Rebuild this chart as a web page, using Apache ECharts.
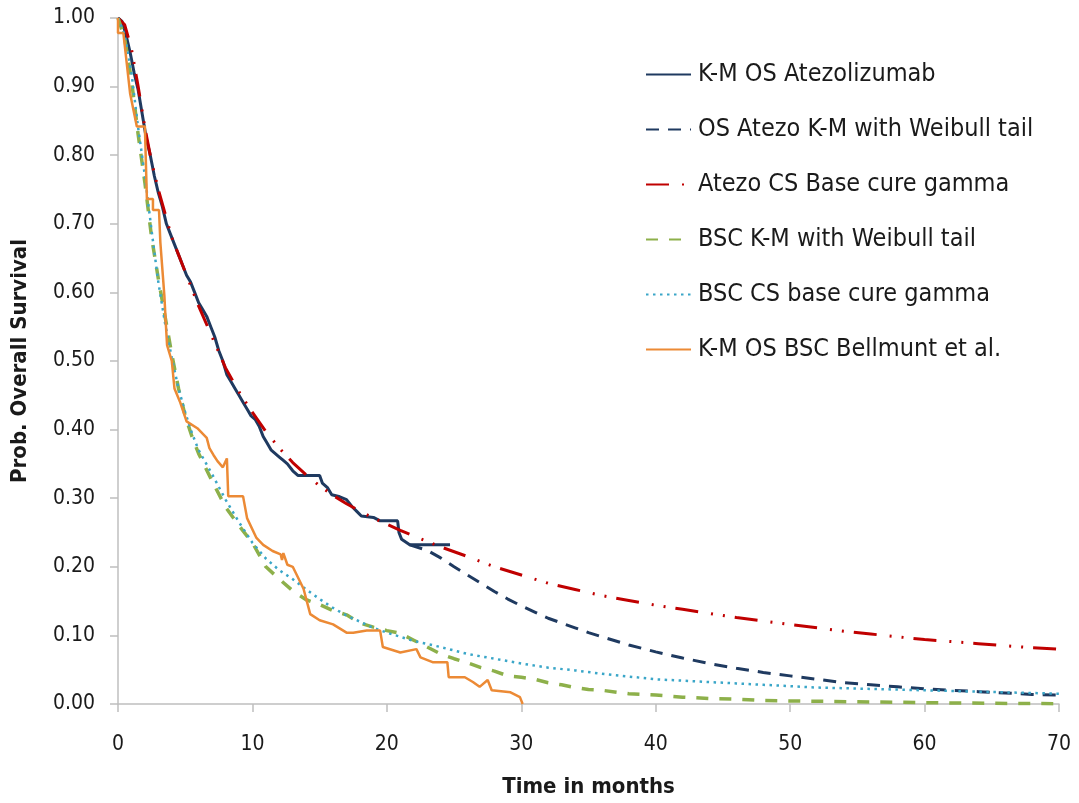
<!DOCTYPE html>
<html>
<head>
<meta charset="utf-8">
<script src="https://cdn.jsdelivr.net/npm/echarts@6/dist/echarts.min.js"></script>
<style>
html,body{margin:0;padding:0;background:#fff;}
#chart{width:1079px;height:803px;}
</style>
</head>
<body>
<div id="chart"></div>
<script>
// ---- Data (time in months, probability of overall survival) ----
const seriesNames = [
  'K-M OS Atezolizumab',
  'OS Atezo K-M with Weibull tail',
  'Atezo CS Base cure gamma',
  'BSC K-M with Weibull tail',
  'BSC CS base cure gamma',
  'K-M OS BSC Bellmunt et al.'
];

const kmAtezo = [[0,1],[0.3,0.995],[0.6,0.975],[0.9,0.95],[1.2,0.92],[1.5,0.895],[1.8,0.86],[2.1,0.825],[2.4,0.8],[2.7,0.77],[3.0,0.745],[3.3,0.725],[3.6,0.7],[3.9,0.685],[4.2,0.67],[4.5,0.655],[4.8,0.64],[5.1,0.625],[5.4,0.615],[5.7,0.6],[6.0,0.585],[6.3,0.575],[6.6,0.565],[6.9,0.55],[7.2,0.535],[7.5,0.515],[7.8,0.5],[8.1,0.48],[8.4,0.47],[8.7,0.46],[9.0,0.45],[9.3,0.44],[9.6,0.43],[9.9,0.42],[10.2,0.415],[10.5,0.405],[10.8,0.39],[11.1,0.38],[11.4,0.37],[11.7,0.365],[12.0,0.36],[12.3,0.355],[12.6,0.35],[13.0,0.34],[13.4,0.333],[15.0,0.333],[15.2,0.322],[15.6,0.315],[15.9,0.305],[16.5,0.302],[17.0,0.298],[17.4,0.288],[17.8,0.28],[18.1,0.274],[19.0,0.272],[19.5,0.267],[20.8,0.267],[20.9,0.25],[21.1,0.24],[21.7,0.232],[24.7,0.232]];

const atezoWeibull = [[21.7,0.232],[23,0.224],[24,0.213],[25,0.2],[26,0.188],[27,0.176],[28,0.164],[29,0.153],[30,0.143],[31,0.134],[32,0.125],[33,0.118],[34,0.111],[35,0.104],[36,0.098],[38,0.086],[40,0.076],[42,0.067],[44,0.059],[46,0.052],[48,0.046],[50,0.041],[52,0.036],[54,0.031],[56,0.028],[58,0.025],[60,0.022],[62,0.02],[64,0.018],[66,0.016],[68,0.014],[70,0.013]];

const atezoCure = [[0,1],[0.5,0.99],[1,0.955],[1.5,0.9],[2,0.84],[2.5,0.79],[3,0.75],[3.5,0.715],[4,0.68],[4.5,0.655],[5,0.63],[5.5,0.605],[6,0.58],[7,0.535],[8,0.49],[9,0.455],[10,0.425],[11,0.397],[12,0.373],[13,0.352],[14,0.334],[15,0.318],[16,0.304],[17,0.292],[18,0.281],[19,0.271],[20,0.262],[21,0.253],[22,0.245],[23,0.237],[24,0.229],[26,0.215],[28,0.2],[30,0.188],[32,0.176],[34,0.167],[36,0.158],[38,0.151],[40,0.144],[42,0.138],[44,0.132],[46,0.126],[48,0.121],[50,0.116],[52,0.111],[54,0.106],[56,0.102],[58,0.098],[60,0.094],[62,0.091],[64,0.088],[66,0.085],[68,0.082],[70,0.08]];

const bscWeibull = [[0,1],[0.5,0.97],[1,0.91],[1.5,0.83],[2,0.76],[2.5,0.68],[3,0.62],[3.5,0.565],[4,0.51],[4.5,0.46],[5,0.42],[5.5,0.39],[6,0.365],[7,0.325],[8,0.287],[9,0.26],[10,0.235],[11,0.2],[12,0.182],[13,0.165],[14,0.152],[15,0.145],[16,0.136],[17,0.13],[18,0.118],[19,0.112],[20,0.107],[21,0.103],[22,0.093],[23,0.083],[24,0.073],[25,0.066],[26,0.06],[27,0.053],[28,0.048],[29,0.041],[30,0.039],[31,0.036],[32,0.031],[33,0.028],[34,0.024],[35,0.021],[36,0.02],[38,0.015],[40,0.013],[42,0.01],[44,0.008],[46,0.007],[48,0.005],[52,0.004],[56,0.003],[60,0.002],[65,0.001],[70,0.0005]];

const bscCure = [[0,1],[0.5,0.975],[1,0.92],[1.5,0.84],[2,0.77],[2.5,0.69],[3,0.615],[3.5,0.555],[4,0.505],[4.5,0.46],[5,0.425],[5.5,0.395],[6,0.37],[7,0.335],[8,0.298],[9,0.265],[10,0.235],[11,0.212],[12,0.195],[13,0.182],[14,0.167],[15,0.153],[16,0.14],[17,0.129],[18,0.12],[19,0.111],[20,0.104],[22,0.092],[24,0.083],[26,0.073],[28,0.066],[30,0.059],[32,0.053],[34,0.049],[36,0.044],[38,0.04],[40,0.036],[42,0.034],[44,0.032],[46,0.03],[48,0.028],[50,0.026],[52,0.024],[54,0.023],[56,0.022],[58,0.021],[60,0.02],[62,0.019],[64,0.018],[66,0.017],[68,0.016],[70,0.015]];

const kmBsc = [[0,1],[0,0.978],[0.4,0.978],[0.9,0.89],[1.4,0.842],[2.0,0.842],[2.15,0.736],[2.6,0.736],[2.6,0.72],[3.05,0.72],[3.15,0.673],[3.45,0.595],[3.55,0.557],[3.65,0.523],[4.0,0.5],[4.2,0.46],[4.6,0.441],[5.1,0.412],[5.9,0.402],[6.6,0.388],[6.8,0.373],[7.1,0.363],[7.4,0.354],[7.8,0.345],[8.1,0.358],[8.2,0.303],[9.3,0.303],[9.6,0.271],[10.3,0.242],[10.8,0.232],[11.5,0.223],[12.1,0.218],[12.2,0.21],[12.3,0.22],[12.6,0.203],[13.0,0.2],[13.8,0.168],[14.3,0.131],[15.0,0.122],[16.0,0.116],[17.0,0.104],[17.5,0.104],[18.5,0.107],[19.5,0.107],[19.7,0.083],[21.0,0.075],[22.2,0.08],[22.5,0.068],[23.4,0.061],[24.5,0.061],[24.6,0.039],[25.8,0.039],[26.4,0.032],[26.9,0.025],[27.5,0.035],[27.8,0.02],[29.2,0.017],[29.9,0.01],[30.1,0]];

const xTicks = {min: 0, max: 70, interval: 10};
const yTicks = {min: 0, max: 1, interval: 0.1};

// ---- Chart ----
const FONT = "'DejaVu Sans Condensed', 'Open Sans', sans-serif";
const chart = echarts.init(document.getElementById('chart'), null, {renderer: 'canvas'});

function lineSeries(name, data, color, width, dash) {
  return {
    name: name,
    type: 'line',
    data: data,
    symbol: 'none',
    smooth: false,
    animation: false,
    lineStyle: {color: color, width: width, type: dash, cap: 'butt'},
    itemStyle: {color: color}
  };
}

const option = {
  backgroundColor: '#fff',
  animation: false,
  grid: {left: 118, right: 20, top: 18, bottom: 96, containLabel: false},
  legend: {
    orient: 'vertical',
    left: 640,
    top: 57,
    itemWidth: 45,
    itemHeight: 14,
    itemGap: 30,
    data: seriesNames,
    itemStyle: {opacity: 0, borderWidth: 0},
    textStyle: {fontFamily: FONT, fontSize: 25, color: '#1a1a1a', padding: [0, 0, 0, 2]},
    selectedMode: false
  },
  xAxis: {
    type: 'value',
    min: xTicks.min, max: xTicks.max, interval: xTicks.interval,
    name: 'Time in months',
    nameLocation: 'middle',
    nameGap: 72,
    nameTextStyle: {fontFamily: FONT, fontSize: 22, fontWeight: 'bold', color: '#1a1a1a'},
    axisLine: {show: true, lineStyle: {color: '#bfbfbf', width: 1.5}},
    axisTick: {show: true, length: 8, lineStyle: {color: '#bfbfbf', width: 1.5}},
    axisLabel: {margin: 30, fontFamily: FONT, fontSize: 21, color: '#1a1a1a'},
    splitLine: {show: false}
  },
  yAxis: {
    type: 'value',
    min: yTicks.min, max: yTicks.max, interval: yTicks.interval,
    name: 'Prob. Overall Survival',
    nameLocation: 'middle',
    nameGap: 87,
    nameRotate: 90,
    nameTextStyle: {fontFamily: FONT, fontSize: 22, fontWeight: 'bold', color: '#1a1a1a'},
    axisLine: {show: true, lineStyle: {color: '#bfbfbf', width: 1.5}},
    axisTick: {show: true, length: 8, lineStyle: {color: '#bfbfbf', width: 1.5}},
    axisLabel: {margin: 23, fontFamily: FONT, fontSize: 21, color: '#1a1a1a',
      formatter: v => v.toFixed(2)},
    splitLine: {show: false}
  },
  series: [
    lineSeries(seriesNames[0], kmAtezo, '#1f3a60', 3, 'solid'),
    lineSeries(seriesNames[1], atezoWeibull, '#1f3a60', 3, [13, 9]),
    lineSeries(seriesNames[2], atezoCure, '#c00000', 3, [23, 13, 2, 10, 2, 10]),
    lineSeries(seriesNames[3], bscWeibull, '#8db04a', 3.5, [12, 11]),
    lineSeries(seriesNames[4], bscCure, '#3aa6c8', 2.5, [2.5, 4.5]),
    lineSeries(seriesNames[5], kmBsc, '#ec8a35', 2.5, 'solid')
  ]
};
chart.setOption(option);
</script>
</body>
</html>
